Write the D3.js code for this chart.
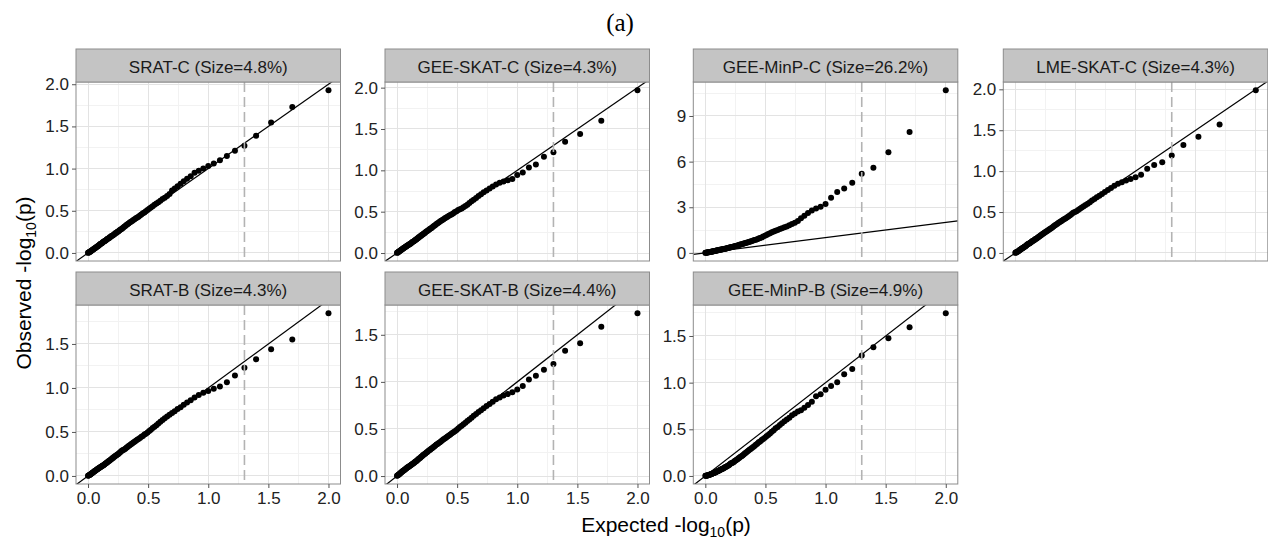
<!DOCTYPE html>
<html>
<head>
<meta charset="utf-8">
<script src="https://cdn.jsdelivr.net/npm/d3@7"></script>
<style>
  html, body { margin: 0; padding: 0; background: #fff; }
  svg { display: block; }
  text { font-family: "Liberation Sans", Arial, Helvetica, sans-serif; }
</style>
</head>
<body>
<svg id="chart" width="1268" height="540"></svg>
<script>
// Expected -log10(p) for the 100 ordered p-values (p = i/100)
const expected = [
  2.000, 1.699, 1.523, 1.398, 1.301, 1.222, 1.155, 1.097, 1.046, 1.000,
  0.959, 0.921, 0.886, 0.854, 0.824, 0.796, 0.770, 0.745, 0.721, 0.699,
  0.678, 0.658, 0.638, 0.620, 0.602, 0.585, 0.569, 0.553, 0.538, 0.523,
  0.509, 0.495, 0.481, 0.469, 0.456, 0.444, 0.432, 0.420, 0.409, 0.398,
  0.387, 0.377, 0.367, 0.357, 0.347, 0.337, 0.328, 0.319, 0.310, 0.301,
  0.292, 0.284, 0.276, 0.268, 0.260, 0.252, 0.244, 0.237, 0.229, 0.222,
  0.215, 0.208, 0.201, 0.194, 0.187, 0.180, 0.174, 0.167, 0.161, 0.155,
  0.149, 0.143, 0.137, 0.131, 0.125, 0.119, 0.114, 0.108, 0.102, 0.097,
  0.092, 0.086, 0.081, 0.076, 0.071, 0.066, 0.060, 0.056, 0.051, 0.046,
  0.041, 0.036, 0.032, 0.027, 0.022, 0.018, 0.013, 0.009, 0.004, 0.000
];

// Observed -log10(p), sorted, one array per test
const obsSRATC = [
  1.93, 1.73, 1.545, 1.39, 1.27, 1.21, 1.15, 1.10, 1.06, 1.03,
  1.00, 0.975, 0.95, 0.91, 0.88, 0.85, 0.82, 0.79, 0.765, 0.74,
  0.70, 0.675, 0.655, 0.64, 0.62, 0.60, 0.585, 0.57, 0.555, 0.54,
  0.525, 0.51, 0.495, 0.48, 0.47, 0.455, 0.445, 0.43, 0.42, 0.41,
  0.40, 0.39, 0.38, 0.37, 0.36, 0.35, 0.34, 0.33, 0.32, 0.31,
  0.30, 0.29, 0.28, 0.275, 0.265, 0.255, 0.25, 0.24, 0.235, 0.225,
  0.22, 0.21, 0.205, 0.20, 0.19, 0.185, 0.175, 0.17, 0.165, 0.16,
  0.15, 0.145, 0.14, 0.135, 0.13, 0.12, 0.115, 0.11, 0.105, 0.10,
  0.09, 0.085, 0.08, 0.075, 0.07, 0.065, 0.06, 0.055, 0.05, 0.045,
  0.04, 0.035, 0.03, 0.025, 0.02, 0.015, 0.012, 0.008, 0.004, 0.001
];
const obsGEESKATC = [
  1.97, 1.60, 1.44, 1.345, 1.22, 1.165, 1.07, 1.035, 0.975, 0.945,
  0.895, 0.88, 0.865, 0.85, 0.83, 0.805, 0.78, 0.755, 0.735, 0.71,
  0.69, 0.665, 0.645, 0.625, 0.605, 0.585, 0.57, 0.555, 0.54, 0.53,
  0.52, 0.505, 0.495, 0.48, 0.47, 0.46, 0.45, 0.44, 0.43, 0.42,
  0.41, 0.40, 0.39, 0.38, 0.37, 0.36, 0.35, 0.34, 0.33, 0.32,
  0.31, 0.30, 0.295, 0.285, 0.275, 0.265, 0.26, 0.25, 0.24, 0.235,
  0.225, 0.22, 0.21, 0.205, 0.195, 0.19, 0.18, 0.175, 0.165, 0.16,
  0.155, 0.145, 0.14, 0.135, 0.13, 0.12, 0.115, 0.11, 0.105, 0.10,
  0.095, 0.09, 0.085, 0.08, 0.075, 0.07, 0.065, 0.06, 0.055, 0.05,
  0.045, 0.04, 0.035, 0.03, 0.025, 0.02, 0.015, 0.01, 0.005, 0.002
];
const obsGEEMinPC = [
  10.70, 7.95, 6.61, 5.59, 5.20, 4.61, 4.24, 4.00, 3.62, 3.21,
  3.04, 2.92, 2.78, 2.62, 2.45, 2.28, 2.10, 1.98, 1.90, 1.82,
  1.74, 1.68, 1.62, 1.57, 1.51, 1.45, 1.40, 1.35, 1.29, 1.24,
  1.18, 1.12, 1.07, 1.02, 0.98, 0.94, 0.90, 0.87, 0.84, 0.81,
  0.78, 0.75, 0.73, 0.70, 0.68, 0.65, 0.63, 0.61, 0.59, 0.57,
  0.55, 0.53, 0.51, 0.49, 0.47, 0.45, 0.44, 0.42, 0.41, 0.39,
  0.38, 0.36, 0.35, 0.33, 0.32, 0.31, 0.29, 0.28, 0.27, 0.26,
  0.25, 0.24, 0.23, 0.22, 0.21, 0.20, 0.19, 0.18, 0.17, 0.16,
  0.15, 0.14, 0.13, 0.12, 0.115, 0.105, 0.095, 0.09, 0.08, 0.07,
  0.065, 0.055, 0.05, 0.04, 0.035, 0.03, 0.02, 0.015, 0.008, 0.002
];
const obsLMESKATC = [
  1.99, 1.57, 1.42, 1.32, 1.19, 1.11, 1.075, 1.03, 0.955, 0.925,
  0.905, 0.885, 0.865, 0.845, 0.82, 0.795, 0.77, 0.745, 0.72, 0.70,
  0.68, 0.66, 0.64, 0.62, 0.60, 0.585, 0.57, 0.555, 0.54, 0.525,
  0.51, 0.50, 0.49, 0.475, 0.46, 0.45, 0.435, 0.425, 0.415, 0.405,
  0.395, 0.385, 0.375, 0.365, 0.355, 0.345, 0.335, 0.325, 0.315, 0.305,
  0.295, 0.29, 0.28, 0.27, 0.265, 0.255, 0.25, 0.24, 0.235, 0.225,
  0.22, 0.21, 0.205, 0.195, 0.19, 0.18, 0.175, 0.17, 0.16, 0.155,
  0.15, 0.145, 0.14, 0.13, 0.125, 0.12, 0.115, 0.11, 0.105, 0.10,
  0.09, 0.085, 0.08, 0.075, 0.07, 0.065, 0.06, 0.055, 0.05, 0.045,
  0.04, 0.035, 0.03, 0.025, 0.02, 0.015, 0.012, 0.008, 0.004, 0.001
];
const obsSRATB = [
  1.85, 1.55, 1.44, 1.325, 1.23, 1.14, 1.065, 1.015, 0.99, 0.965,
  0.945, 0.92, 0.89, 0.86, 0.835, 0.81, 0.78, 0.76, 0.735, 0.715,
  0.695, 0.675, 0.655, 0.635, 0.615, 0.595, 0.575, 0.56, 0.545, 0.525,
  0.51, 0.495, 0.48, 0.47, 0.455, 0.445, 0.43, 0.42, 0.41, 0.40,
  0.39, 0.38, 0.37, 0.36, 0.35, 0.34, 0.33, 0.32, 0.31, 0.30,
  0.295, 0.29, 0.28, 0.27, 0.26, 0.25, 0.245, 0.235, 0.23, 0.22,
  0.215, 0.205, 0.20, 0.19, 0.185, 0.175, 0.17, 0.165, 0.155, 0.15,
  0.145, 0.14, 0.13, 0.125, 0.12, 0.115, 0.11, 0.105, 0.10, 0.095,
  0.09, 0.085, 0.08, 0.075, 0.07, 0.065, 0.06, 0.055, 0.05, 0.045,
  0.04, 0.035, 0.03, 0.025, 0.02, 0.016, 0.012, 0.008, 0.004, 0.001
];
const obsGEESKATB = [
  1.73, 1.585, 1.41, 1.33, 1.19, 1.13, 1.065, 1.025, 0.955, 0.92,
  0.89, 0.87, 0.855, 0.835, 0.815, 0.79, 0.765, 0.745, 0.72, 0.70,
  0.68, 0.66, 0.64, 0.62, 0.60, 0.585, 0.565, 0.55, 0.535, 0.52,
  0.505, 0.49, 0.475, 0.465, 0.455, 0.44, 0.43, 0.42, 0.41, 0.40,
  0.39, 0.38, 0.37, 0.36, 0.35, 0.34, 0.335, 0.325, 0.315, 0.305,
  0.295, 0.29, 0.28, 0.275, 0.265, 0.255, 0.25, 0.24, 0.235, 0.225,
  0.22, 0.21, 0.205, 0.195, 0.19, 0.18, 0.175, 0.165, 0.16, 0.155,
  0.15, 0.14, 0.135, 0.13, 0.125, 0.12, 0.115, 0.11, 0.105, 0.10,
  0.095, 0.09, 0.085, 0.08, 0.075, 0.07, 0.065, 0.06, 0.055, 0.05,
  0.045, 0.04, 0.035, 0.03, 0.025, 0.02, 0.015, 0.01, 0.005, 0.002
];
const obsGEEMinPB = [
  1.745, 1.595, 1.475, 1.38, 1.29, 1.145, 1.09, 1.005, 0.965, 0.925,
  0.875, 0.855, 0.795, 0.76, 0.73, 0.705, 0.69, 0.67, 0.65, 0.625,
  0.605, 0.585, 0.565, 0.545, 0.525, 0.51, 0.49, 0.475, 0.455, 0.44,
  0.425, 0.41, 0.395, 0.385, 0.37, 0.36, 0.345, 0.335, 0.32, 0.31,
  0.30, 0.29, 0.28, 0.27, 0.26, 0.25, 0.24, 0.23, 0.22, 0.21,
  0.205, 0.195, 0.19, 0.18, 0.175, 0.165, 0.16, 0.15, 0.145, 0.14,
  0.135, 0.13, 0.12, 0.115, 0.11, 0.105, 0.10, 0.095, 0.09, 0.085,
  0.08, 0.078, 0.074, 0.07, 0.066, 0.062, 0.058, 0.054, 0.05, 0.047,
  0.044, 0.041, 0.038, 0.035, 0.032, 0.029, 0.026, 0.023, 0.02, 0.018,
  0.016, 0.014, 0.012, 0.01, 0.008, 0.006, 0.004, 0.003, 0.002, 0.001
];

const panelTitles = [
  "SRAT-C (Size=4.8%)", "GEE-SKAT-C (Size=4.3%)", "GEE-MinP-C (Size=26.2%)", "LME-SKAT-C (Size=4.3%)",
  "SRAT-B (Size=4.3%)", "GEE-SKAT-B (Size=4.4%)", "GEE-MinP-B (Size=4.9%)"
];
const panelObserved = [obsSRATC, obsGEESKATC, obsGEEMinPC, obsLMESKATC, obsSRATB, obsGEESKATB, obsGEEMinPB];

// Axis breaks
const xTicks = [0, 0.5, 1, 1.5, 2];
const yTicksC = [0, 0.5, 1, 1.5, 2];
const yTicksMinPC = [0, 3, 6, 9];
const yTicksB = [0, 0.5, 1, 1.5];
const panelYTicks = [yTicksC, yTicksC, yTicksMinPC, yTicksC, yTicksB, yTicksB, yTicksB];

// Nominal 0.05 significance level on the -log10 scale
const threshold = 1.301;

// ---- layout ----
const colLeft = [76, 385, 693.3, 1003.3];
const panelW = 264.5;
const rowTop = [49, 272];
const stripH = 33;
const panelH = 179;

const svg = d3.select("#chart");
const defs = svg.append("defs");

const expand = ([a, b]) => [a - 0.05 * (b - a), b + 0.05 * (b - a)];

function minorBreaks(major, domain) {
  const step = major[1] - major[0];
  const ext = [major[0] - step, ...major, major[major.length - 1] + step];
  const out = [];
  for (let i = 0; i < ext.length - 1; i++) out.push((ext[i] + ext[i + 1]) / 2);
  return out.filter(v => v > domain[0] && v < domain[1]);
}

panelObserved.forEach((obs, k) => {
  const col = k % 4, row = Math.floor(k / 4);
  const left = colLeft[col];
  const stripTop = rowTop[row];
  const top = stripTop + stripH;
  const data = expected.map((e, i) => ({ e, o: obs[i] }));

  const x = d3.scaleLinear().domain(expand(d3.extent(expected))).range([left, left + panelW]);
  const y = d3.scaleLinear().domain(expand(d3.extent(obs))).range([top + panelH, top]);
  const yTicks = panelYTicks[k].filter(v => v >= y.domain()[0] && v <= y.domain()[1]);
  const yFmt = k === 2 ? d3.format("d") : d3.format(".1f");

  const g = svg.append("g");

  g.append("rect").attr("x", left).attr("y", top).attr("width", panelW).attr("height", panelH)
    .attr("fill", "#fff");

  // grid
  const grid = g.append("g").attr("shape-rendering", "crispEdges");
  minorBreaks(xTicks, x.domain()).forEach(v => {
    grid.append("line").attr("x1", x(v)).attr("x2", x(v)).attr("y1", top).attr("y2", top + panelH)
      .attr("stroke", "#f2f2f2").attr("stroke-width", 1);
  });
  minorBreaks(yTicks, y.domain()).forEach(v => {
    grid.append("line").attr("x1", left).attr("x2", left + panelW).attr("y1", y(v)).attr("y2", y(v))
      .attr("stroke", "#f2f2f2").attr("stroke-width", 1);
  });
  xTicks.forEach(v => {
    grid.append("line").attr("x1", x(v)).attr("x2", x(v)).attr("y1", top).attr("y2", top + panelH)
      .attr("stroke", "#e3e3e3").attr("stroke-width", 1);
  });
  yTicks.forEach(v => {
    grid.append("line").attr("x1", left).attr("x2", left + panelW).attr("y1", y(v)).attr("y2", y(v))
      .attr("stroke", "#e3e3e3").attr("stroke-width", 1);
  });

  const clipId = "clip" + k;
  defs.append("clipPath").attr("id", clipId)
    .append("rect").attr("x", left).attr("y", top).attr("width", panelW).attr("height", panelH);
  const plot = g.append("g").attr("clip-path", `url(#${clipId})`);

  // points
  plot.selectAll("circle").data(data).join("circle")
    .attr("cx", d => x(d.e)).attr("cy", d => y(d.o)).attr("r", 3).attr("fill", "#000");

  // identity line
  const xd = x.domain();
  plot.append("line")
    .attr("x1", x(xd[0])).attr("y1", y(xd[0]))
    .attr("x2", x(xd[1])).attr("y2", y(xd[1]))
    .attr("stroke", "#000").attr("stroke-width", 1.2);

  // significance threshold
  plot.append("line")
    .attr("x1", x(threshold)).attr("x2", x(threshold)).attr("y1", top).attr("y2", top + panelH)
    .attr("stroke", "#b3b3b3").attr("stroke-width", 1.6).attr("stroke-dasharray", "10,5");

  // border
  g.append("rect").attr("x", left).attr("y", top).attr("width", panelW).attr("height", panelH)
    .attr("fill", "none").attr("stroke", "#8c8c8c").attr("stroke-width", 1);

  // strip
  g.append("rect").attr("x", left).attr("y", stripTop).attr("width", panelW).attr("height", stripH)
    .attr("fill", "#c4c4c4").attr("stroke", "#8c8c8c").attr("stroke-width", 1);
  g.append("text").attr("x", left + panelW / 2).attr("y", stripTop + stripH / 2 + 1.5)
    .attr("text-anchor", "middle").attr("dominant-baseline", "central")
    .attr("font-size", 17).attr("fill", "#1a1a1a").text(panelTitles[k]);

  // y axis
  const ya = g.append("g").attr("transform", `translate(${left},0)`)
    .call(d3.axisLeft(y).tickValues(yTicks).tickFormat(yFmt).tickSize(4).tickPadding(3));
  ya.select(".domain").remove();
  ya.selectAll(".tick line").attr("stroke", "#555");
  ya.selectAll(".tick text").attr("font-size", 17).attr("fill", "#222");

  // x axis on the bottom row only
  if (row === 1) {
    const xa = g.append("g").attr("transform", `translate(0,${top + panelH})`)
      .call(d3.axisBottom(x).tickValues(xTicks).tickFormat(d3.format(".1f")).tickSize(4).tickPadding(4));
    xa.select(".domain").remove();
    xa.selectAll(".tick line").attr("stroke", "#555");
    xa.selectAll(".tick text").attr("font-size", 17).attr("fill", "#222");
  }
});

// titles
svg.append("text").attr("x", 620).attr("y", 31).attr("text-anchor", "middle")
  .style("font-family", "\"Liberation Serif\", \"DejaVu Serif\", serif").attr("font-size", 25)
  .attr("fill", "#000").text("(a)");

const xt = svg.append("text").attr("x", 666).attr("y", 532).attr("text-anchor", "middle")
  .attr("font-size", 21).attr("fill", "#000");
xt.append("tspan").text("Expected -log");
xt.append("tspan").attr("font-size", 14).attr("dy", 5).text("10");
xt.append("tspan").attr("dy", -5).text("(p)");

const yt = svg.append("text").attr("transform", "translate(31,283) rotate(-90)").attr("text-anchor", "middle")
  .attr("font-size", 21).attr("fill", "#000");
yt.append("tspan").text("Observed -log");
yt.append("tspan").attr("font-size", 14).attr("dy", 5).text("10");
yt.append("tspan").attr("dy", -5).text("(p)");
</script>
</body>
</html>
